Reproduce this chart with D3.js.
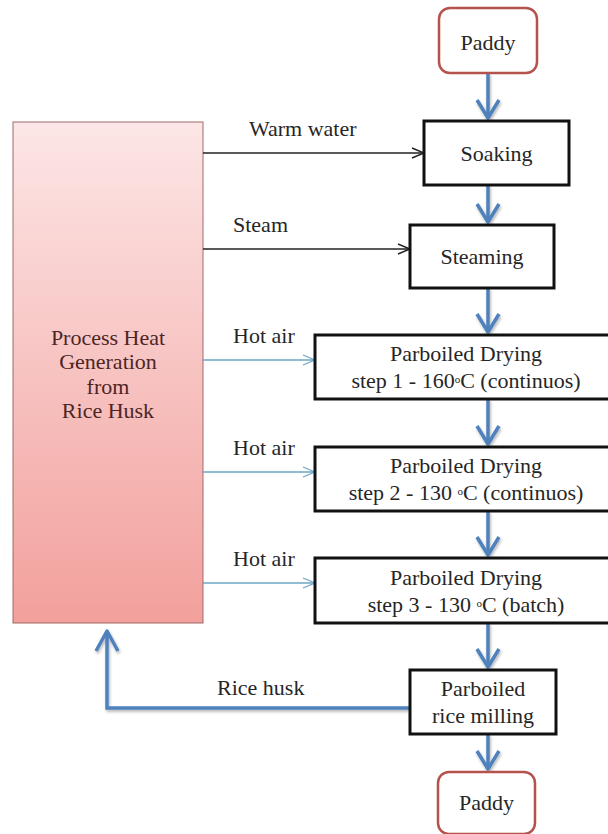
<!DOCTYPE html>
<html lang="en">
<head>
  <meta charset="UTF-8">
  <title>Parboiled rice process heat</title>
  <script src="https://d3js.org/d3.v7.min.js"></script>
  <style>
    body { margin: 0; background: #fff; }
    text {
      font-family: "Liberation Serif", "Times New Roman", serif;
      font-size: 22px;
      fill: #262626;
    }
    .src text { fill: #4d2525; }
  </style>
</head>
<body>
  <script>
    // flow steps (top to bottom), lines of text in each box
    const stepLines = [
      ["Paddy"],
      ["Soaking"],
      ["Steaming"],
      ["Parboiled Drying", "step 1 - 160|o|C (continuos)"],
      ["Parboiled Drying", "step 2 - 130 |o|C (continuos)"],
      ["Parboiled Drying", "step 3 - 130 |o|C (batch)"],
      ["Parboiled", "rice milling"],
      ["Paddy"]
    ];
    const stepKinds = ["end", "step", "step", "step", "step", "step", "step", "end"];

    // heat inputs from the left box
    const inputLabels = ["Warm water", "Steam", "Hot air", "Hot air", "Hot air"];
    const inputTargets = [1, 2, 3, 4, 5];
    const inputKinds = ["water", "water", "air", "air", "air"];

    const sourceLines = ["Process Heat", "Generation", "from", "Rice Husk"];
    const recycleLabel = "Rice husk";
    const recycleFrom = 6;

    // layout of boxes (x0, x1, y0, y1)
    const boxes = [
      [439, 537, 8, 73],
      [424, 569, 121, 185],
      [410, 554, 225, 288],
      [315, 617, 335, 399],
      [315, 617, 447, 511],
      [315, 617, 558, 623],
      [410, 556, 670, 734],
      [438, 535, 772, 834]
    ];
    const source = { x0: 13, x1: 203, y0: 122, y1: 623 };
    const inputY = [153, 249, 360, 472, 583];
    const inputLabelX = [249, 233, 233, 233, 233];
    const flowX = 488;
    const recycleY = 708, recycleX = 107;

    const width = 608, height = 834;
    const svg = d3.select('body').append('svg')
      .attr('width', width)
      .attr('height', height);

    const defs = svg.append('defs');
    const grad = defs.append('linearGradient')
      .attr('id', 'srcGrad')
      .attr('x1', 0).attr('y1', 0).attr('x2', 0).attr('y2', 1);
    grad.append('stop').attr('offset', '0%').attr('stop-color', '#fce6e6');
    grad.append('stop').attr('offset', '100%').attr('stop-color', '#f2a09c');

    const shadow = defs.append('filter').attr('id', 'shadow')
      .attr('x', '-50%').attr('y', '-50%').attr('width', '200%').attr('height', '200%');
    shadow.append('feGaussianBlur').attr('in', 'SourceAlpha').attr('stdDeviation', 1.5).attr('result', 'b');
    shadow.append('feOffset').attr('in', 'b').attr('dx', 1).attr('dy', 1.5).attr('result', 'o');
    shadow.append('feComponentTransfer').attr('in', 'o').attr('result', 'f')
      .append('feFuncA').attr('type', 'linear').attr('slope', 0.3);
    const merge = shadow.append('feMerge');
    merge.append('feMergeNode').attr('in', 'f');
    merge.append('feMergeNode').attr('in', 'SourceGraphic');

    // ---- left source box
    const src = svg.append('g').attr('class', 'src');
    src.append('rect')
      .attr('x', source.x0).attr('y', source.y0)
      .attr('width', source.x1 - source.x0).attr('height', source.y1 - source.y0)
      .attr('fill', 'url(#srcGrad)')
      .attr('stroke', '#a06a6a')
      .attr('stroke-width', 1);
    src.selectAll('text')
      .data(sourceLines)
      .enter().append('text')
      .attr('x', (source.x0 + source.x1) / 2)
      .attr('y', (d, i) => 337 + i * 24.5)
      .attr('dy', '0.35em')
      .attr('text-anchor', 'middle')
      .text(d => d);

    // ---- helpers
    function chevron(x, y, dir, w, h) {
      const p = d3.path();
      if (dir === 'down') { p.moveTo(x - w, y - h); p.lineTo(x, y); p.lineTo(x + w, y - h); }
      if (dir === 'up') { p.moveTo(x - w, y + h); p.lineTo(x, y); p.lineTo(x + w, y + h); }
      if (dir === 'right') { p.moveTo(x - h, y - w); p.lineTo(x, y); p.lineTo(x - h, y + w); }
      return p.toString();
    }

    // ---- heat input arrows
    const inputs = svg.append('g');
    inputLabels.forEach((lab, i) => {
      const y = inputY[i];
      const tx = boxes[inputTargets[i]][0];
      const col = inputKinds[i] === 'air' ? '#6ea6c6' : '#222';
      const sw = inputKinds[i] === 'air' ? 1.3 : 1.4;
      inputs.append('line')
        .attr('x1', source.x1).attr('x2', tx)
        .attr('y1', y).attr('y2', y)
        .attr('stroke', col).attr('stroke-width', sw);
      inputs.append('path')
        .attr('d', chevron(tx, y, 'right', 5, 12))
        .attr('fill', 'none').attr('stroke', col).attr('stroke-width', sw);
      inputs.append('text')
        .attr('x', inputLabelX[i]).attr('y', y - 17)
        .text(lab);
    });

    // ---- blue flow arrows between steps
    const flow = svg.append('g').attr('filter', 'url(#shadow)');
    for (let i = 0; i < stepLines.length - 1; i++) {
      const y1 = boxes[i][3];
      const y2 = boxes[i + 1][2] - 3;
      flow.append('line')
        .attr('x1', flowX).attr('x2', flowX)
        .attr('y1', y1).attr('y2', y2)
        .attr('stroke', '#4f81bd').attr('stroke-width', 3.5);
      flow.append('path')
        .attr('d', chevron(flowX, y2, 'down', 11, 18))
        .attr('fill', 'none').attr('stroke', '#4f81bd').attr('stroke-width', 3.5)
        .attr('stroke-linejoin', 'round');
    }

    // ---- rice husk recycle arrow
    const rb = boxes[recycleFrom];
    const rp = d3.path();
    rp.moveTo(rb[0], recycleY);
    rp.lineTo(recycleX, recycleY);
    rp.lineTo(recycleX, source.y1 + 8);
    flow.append('path')
      .attr('d', rp.toString())
      .attr('fill', 'none').attr('stroke', '#4f81bd').attr('stroke-width', 3.5);
    flow.append('path')
      .attr('d', chevron(recycleX, source.y1 + 8, 'up', 11, 20))
      .attr('fill', 'none').attr('stroke', '#4f81bd').attr('stroke-width', 3.5)
      .attr('stroke-linejoin', 'round');
    svg.append('text')
      .attr('x', 217).attr('y', recycleY - 13)
      .text(recycleLabel);

    // ---- step boxes
    const node = svg.append('g')
      .selectAll('g')
      .data(stepLines)
      .enter().append('g');

    node.append('rect')
      .attr('x', (d, i) => boxes[i][0])
      .attr('y', (d, i) => boxes[i][2])
      .attr('width', (d, i) => boxes[i][1] - boxes[i][0])
      .attr('height', (d, i) => boxes[i][3] - boxes[i][2])
      .attr('rx', (d, i) => stepKinds[i] === 'end' ? 11 : 0)
      .attr('fill', '#fff')
      .attr('stroke', (d, i) => stepKinds[i] === 'end' ? '#b5524e' : '#111')
      .attr('stroke-width', (d, i) => stepKinds[i] === 'end' ? 2.5 : 3);

    node.each(function(lines, i) {
      const b = boxes[i];
      const cx = (b[0] + Math.min(b[1], 617)) / 2;
      const cy = (b[2] + b[3]) / 2 + (i === 0 ? 2 : 0) + (i === 7 ? -1 : 0);
      const n = lines.length;
      lines.forEach((ln, k) => {
        const t = d3.select(this).append('text')
          .attr('x', cx)
          .attr('y', cy + (k - (n - 1) / 2) * 27)
          .attr('dy', '0.35em')
          .attr('text-anchor', 'middle');
        const parts = ln.split('|');
        if (parts.length === 1) {
          t.text(ln);
        } else {
          t.append('tspan').text(parts[0]);
          t.append('tspan').attr('font-size', '11px').attr('dy', -5).text(parts[1]);
          t.append('tspan').attr('dy', 5).text(parts[2]);
        }
      });
    });
  </script>
</body>
</html>
